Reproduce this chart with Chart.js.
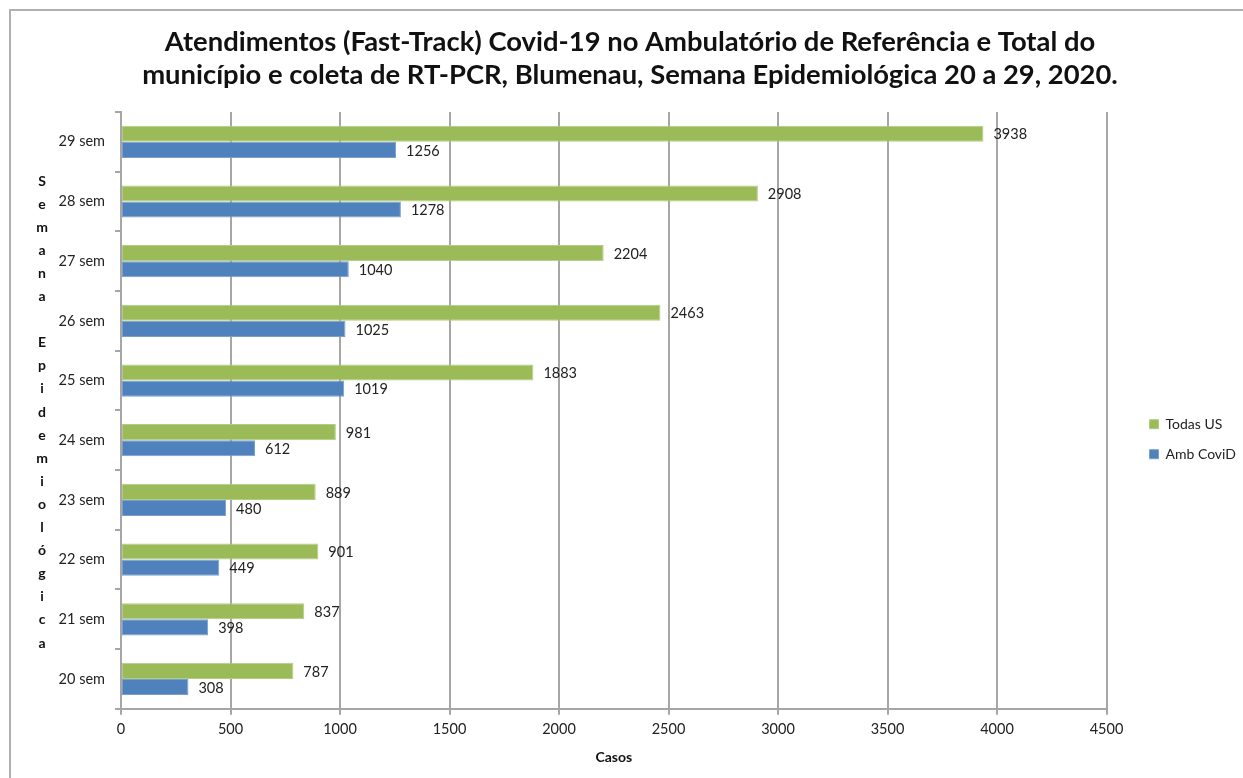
<!DOCTYPE html>
<html>
<head>
<meta charset="utf-8">
<script src="https://cdn.jsdelivr.net/npm/chart.js@4"></script>
<style>
  body { margin: 0; background: #fff; overflow: hidden; }
  #frame { position: absolute; left: 9px; top: 9px; width: 1300px; height: 900px; border: 2px solid #b0b0b0; }
  #wrap { position: absolute; left: 0; top: 0; width: 1243px; height: 778px; }
</style>
</head>
<body>
<div id="frame"></div>
<div id="wrap"><canvas id="myChart" width="1243" height="778"></canvas></div>
<script>
const semanas = ['20 sem', '21 sem', '22 sem', '23 sem', '24 sem', '25 sem', '26 sem', '27 sem', '28 sem', '29 sem'];
const todasUS = [787, 837, 901, 889, 981, 1883, 2463, 2204, 2908, 3938];
const ambCovid = [308, 398, 449, 480, 612, 1019, 1025, 1040, 1278, 1256];
const xTicks = [0, 500, 1000, 1500, 2000, 2500, 3000, 3500, 4000, 4500];
const tituloY = 'Semana Epidemiológica';

const fontFam = 'Lato, "Open Sans", sans-serif';

// rotulos de valor ao lado das barras
const valueLabels = {
    id: 'valueLabels',
    afterDatasetsDraw(chart) {
        const ctx = chart.ctx;
        ctx.save();
        ctx.font = '14.5px ' + fontFam;
        ctx.fillStyle = '#222';
        ctx.textBaseline = 'middle';
        ctx.textAlign = 'left';
        chart.data.datasets.forEach((ds, i) => {
            chart.getDatasetMeta(i).data.forEach((bar, j) => {
                ctx.fillText(ds.data[j], bar.x + 10, bar.y + 1);
            });
        });
        ctx.restore();
    }
};

// titulo do eixo Y, uma letra por linha
const stackedTitle = {
    id: 'stackedTitle',
    afterDraw(chart) {
        const ctx = chart.ctx;
        ctx.save();
        ctx.font = 'bold 14px ' + fontFam;
        ctx.fillStyle = '#111';
        ctx.textAlign = 'center';
        ctx.textBaseline = 'middle';
        const letters = tituloY.split('');
        letters.forEach((ch, k) => {
            ctx.fillText(ch, 42, 181 + k * 23.1);
        });
        ctx.restore();
    }
};

// empurra a legenda um pouco para a direita
const legendShift = {
    id: 'legendShift',
    afterLayout(chart) {
        const lg = chart.legend;
        if (!lg) return;
        lg.left += 27;
        lg.right += 27;
    }
};

const ctx = document.getElementById('myChart').getContext('2d');

new Chart(ctx, {
    type: 'bar',
    data: {
        labels: semanas,
        datasets: [{
            label: 'Todas US',
            data: todasUS,
            backgroundColor: '#9BBB59',
            borderColor: '#b3cc85',
            borderWidth: 1,
            borderSkipped: false,
        }, {
            label: 'Amb CoviD',
            data: ambCovid,
            backgroundColor: '#4F81BD',
            borderColor: '#7a9fcc',
            borderWidth: 1,
            borderSkipped: false,
        }]
    },
    options: {
        indexAxis: 'y',
        responsive: false,
        animation: false,
        devicePixelRatio: 1,
        datasets: {
            bar: { categoryPercentage: 0.54, barPercentage: 1 }
        },
        layout: {
            padding: { left: 41, right: 24, top: 0, bottom: 8 }
        },
        plugins: {
            title: {
                display: true,
                text: ['Atendimentos (Fast-Track) Covid-19 no Ambulatório de Referência e Total do',
                       'município e coleta de RT-PCR, Blumenau, Semana Epidemiológica 20 a 29, 2020.'],
                font: { family: fontFam, size: 27.4, weight: 'bold', lineHeight: 1.204 },
                color: '#111',
                padding: { top: 26, bottom: 20 }
            },
            legend: {
                position: 'right',
                title: { display: true, text: '', padding: { top: 47, bottom: 47 } },
                labels: {
                    boxWidth: 9,
                    boxHeight: 9,
                    padding: 16,
                    color: '#222',
                    font: { family: fontFam, size: 14 }
                }
            },
            tooltip: { enabled: false }
        },
        scales: {
            x: {
                min: 0,
                max: 4500,
                afterBuildTicks(scale) {
                    scale.ticks = xTicks.map(v => ({ value: v }));
                },
                grid: { color: '#a6a6a6', lineWidth: 2, tickLength: 6 },
                border: { color: '#a6a6a6', width: 2 },
                ticks: {
                    color: '#222',
                    padding: 6,
                    maxRotation: 0,
                    callback: v => String(v),
                    font: { family: fontFam, size: 14.5 }
                },
                title: {
                    display: true,
                    text: 'Casos',
                    color: '#111',
                    font: { family: fontFam, size: 14, weight: 'bold' },
                    padding: { top: 5, bottom: 4 }
                }
            },
            y: {
                reverse: true,
                afterFit(scale) { scale.width = 80; },
                grid: { offset: true, drawOnChartArea: false, color: '#a6a6a6', lineWidth: 2, tickLength: 6 },
                border: { color: '#a6a6a6', width: 2 },
                ticks: {
                    color: '#222',
                    padding: 10,
                    font: { family: fontFam, size: 14.5 }
                }
            }
        }
    },
    plugins: [valueLabels, stackedTitle, legendShift]
});
</script>
</body>
</html>
